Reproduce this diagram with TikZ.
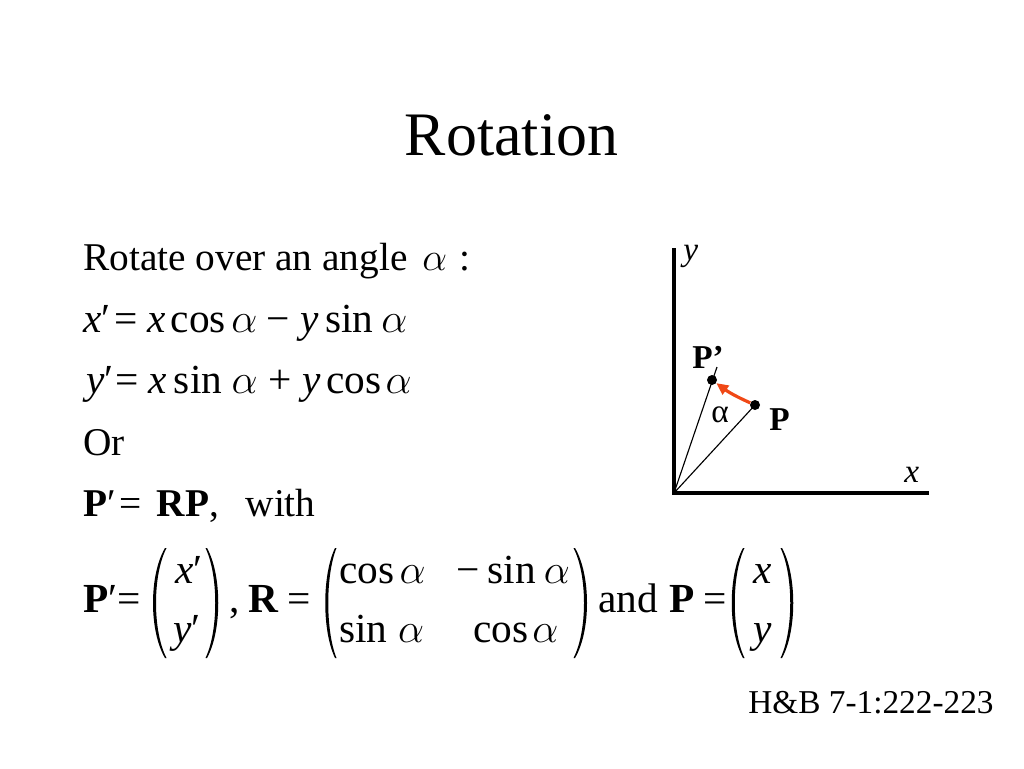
\RequirePackage{fix-cm}
\documentclass[tikz,border=0pt]{standalone}
\usepackage{fontspec}
\setmainfont{Liberation Serif}
\usepackage{tikz}
\usetikzlibrary{arrows.meta}

\begin{document}
\begin{tikzpicture}[x=0.75pt,y=0.75pt,yscale=-1,xscale=1,
  txt/.style={anchor=base west,inner sep=0pt,font=\fontsize{29.5}{35}\selectfont},
  eq/.style={anchor=base west,inner sep=0pt,font=\fontsize{31}{36}\selectfont},
  lbl/.style={anchor=base west,inner sep=0pt,font=\fontsize{25}{30}\selectfont},
  dot/.style={circle,fill=black,inner sep=0pt,minimum size=7.5pt},
  paren/.style={fill=black,draw=none}]
        \useasboundingbox (0,0) rectangle (1024,768);

        % Title
        \draw (511.5,155) node [anchor=base,inner sep=0pt,font=\fontsize{46.4}{54}\selectfont] (title) {Rotation};

        % Text lines
        \draw (83,270) node [txt] (line1) {Rotate over an angle\hspace{11pt}$\alpha$\hspace{9pt}:};
        \draw (83,332) node [eq] (line2) {\textit{x}′\hspace{3pt}=\hspace{7.5pt}\textit{x}\hspace{3.5pt}cos\hspace{4pt}$\alpha$\hspace{7pt}−\hspace{8pt}\textit{y}\hspace{4.5pt}sin\hspace{6pt}$\alpha$};
        \draw (86,393) node [eq] (line3) {\textit{y}′\hspace{1pt}=\hspace{8pt}\textit{x}\hspace{5pt}sin\hspace{7pt}$\alpha$\hspace{8pt}+\hspace{8pt}\textit{y}\hspace{4.5pt}cos\hspace{3pt}$\alpha$};
        \draw (83,455) node [txt] (line4) {Or};
        \draw (83,516) node [txt] (line5) {\textbf{P}′\hspace{3pt}=\hspace{11pt}\textbf{RP},\hspace{20pt}with};

        % Matrix equation
        \draw (83,612) node [eq] (eqP) {\textbf{P}′=};
        \draw (229,612) node [eq] (eqR) {,\hspace{7pt}\textbf{R}\hspace{6pt}=};
        \draw (598,612) node [eq] (eqand) {and\hspace{9pt}\textbf{P}\hspace{6pt}=};
        \draw (175,583) node [eq] (m11) {\textit{x}′};
        \draw (173,642) node [eq] (m21) {\textit{y}′};
        \draw (339,583) node [eq] (r11) {cos\hspace{4pt}$\alpha$};
        \draw (456,583) node [eq] (r12) {−\hspace{6pt}sin\hspace{6pt}$\alpha$};
        \draw (339,642) node [eq] (r21) {sin\hspace{8pt}$\alpha$};
        \draw (473,642) node [eq] (r22) {cos\hspace{3pt}$\alpha$};
        \draw (753,583) node [eq] (v11) {\textit{x}};
        \draw (753,642) node [eq] (v21) {\textit{y}};

        %Shape: Parentheses
        \fill [paren] (165,548) .. controls (149,575) and (149,631) .. (165,658) -- (166.5,658) .. controls (152.5,631) and (152.5,575) .. (166.5,548) -- cycle ;
        \fill [paren] (207,548) .. controls (222,575) and (222,631) .. (207,658) -- (205.5,658) .. controls (218.5,631) and (218.5,575) .. (205.5,548) -- cycle ;
        \fill [paren] (335,548) .. controls (322,575) and (322,631) .. (335,658) -- (336.5,658) .. controls (325.5,631) and (325.5,575) .. (336.5,548) -- cycle ;
        \fill [paren] (575,548) .. controls (591,575) and (591,631) .. (575,658) -- (573.5,658) .. controls (587.5,631) and (587.5,575) .. (573.5,548) -- cycle ;
        \fill [paren] (743,548) .. controls (728,575) and (728,631) .. (743,658) -- (744.5,658) .. controls (731.5,631) and (731.5,575) .. (744.5,548) -- cycle ;
        \fill [paren] (782,548) .. controls (797,575) and (797,631) .. (782,658) -- (780.5,658) .. controls (793.5,631) and (793.5,575) .. (780.5,548) -- cycle ;

        % Axes
        \coordinate (O) at (674,493);
        \coordinate (ytop) at (674,248);
        \coordinate (xend) at (929,493);
        \draw [line width=3pt] (ytop) -- (O) -- (xend) ;
        \node [dot] (P) at (755,405) {};
        \node [dot] (Pp) at (712,380) {};
        \coordinate (Ptip) at (717,367);
        \draw [line width=0.85pt] (O) -- (P.center) ;
        \draw [line width=0.85pt] (O) -- (Ptip) ;
        \draw [color={rgb, 255:red, 240; green, 72; blue, 22 }, line width=2.4pt, -{Triangle[length=9pt,width=8pt]}, bend right=6] (P) to (Pp) ;

        % Axis labels
        \draw (683,260) node [lbl] (ylbl) {\textit{y}};
        \draw (904,482) node [lbl] (xlbl) {\textit{x}};
        \draw (692,368) node [lbl] (Pplbl) {\textbf{P’}};
        \draw (769,430) node [lbl] (Plbl) {\textbf{P}};
        \draw (711,422) node [lbl] (alpha) {α};

        % Reference
        \draw (748,713) node [anchor=base west,inner sep=0pt,font=\fontsize{25}{30}\selectfont] (ref) {H\&B 7-1:222-223};
\end{tikzpicture}
\end{document}
